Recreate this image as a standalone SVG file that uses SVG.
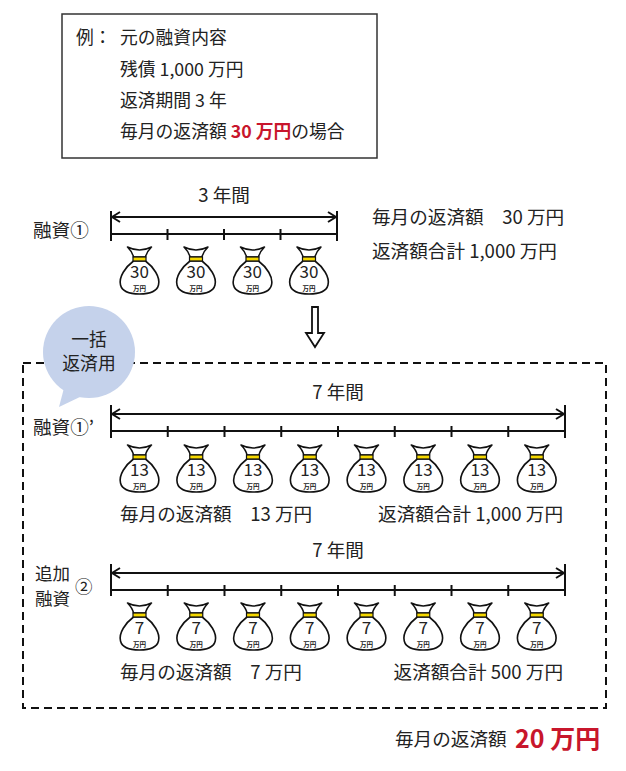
<svg xmlns="http://www.w3.org/2000/svg" xmlns:xlink="http://www.w3.org/1999/xlink" width="626" height="771" viewBox="0 0 626 771">
<style>
text{font-family:"Noto Sans CJK JP","Noto Sans",sans-serif;fill:#222;}
.t{font-size:18.6px;}
.tb{font-size:17.8px;}
.ts{font-size:17.5px;}
.red{fill:#c8162c;font-weight:bold;}
.ln{stroke:#111;stroke-width:2;fill:none;}
.bag{fill:#fff;stroke:#111;stroke-width:1.6;stroke-linejoin:round;}
.band{fill:#f5d800;stroke:#111;stroke-width:1.2;}
.num{font-size:17px;text-anchor:middle;}
.unit{font-size:6.5px;text-anchor:middle;font-weight:bold;}
.mid{text-anchor:middle;}
.end{text-anchor:end;}
</style>
<defs>
<g id="bagShape">
<path class="bag" d="M -12 0 Q 0 6 12 0 Q 7 5 6 10 L -6 10 Q -7 5 -12 0 Z"/>
<path class="bag" d="M -6 14 C -14 20 -21 30 -19 38 C -17 46 -8 47 0 47 C 8 47 17 46 19 38 C 21 30 14 20 6 14 Z"/>
<rect class="band" x="-6.5" y="10" width="13" height="4"/>
</g>
<marker id="ah" viewBox="0 0 10 12" refX="9" refY="6" markerWidth="10" markerHeight="12" markerUnits="userSpaceOnUse" orient="auto-start-reverse">
<path d="M 1 1 L 9 6 L 1 11" fill="none" stroke="#111" stroke-width="2"/>
</marker>
</defs>
<rect width="626" height="771" fill="#fff"/>

<g id="example-box">
<rect x="62" y="14" width="315" height="144" fill="#fff" stroke="#333" stroke-width="1.5"/>
<text class="tb" x="76" y="44">例：</text>
<text class="tb" x="120" y="44">元の融資内容</text>
<text class="tb" x="120" y="76">残債 1,000 万円</text>
<text class="tb" x="120" y="107">返済期間 3 年</text>
<text class="tb" x="120" y="138">毎月の返済額 <tspan class="red">30 万円</tspan>の場合</text>
</g>

<g id="connectors">
<line class="ln" x1="112" y1="217" x2="336" y2="217" marker-start="url(#ah)" marker-end="url(#ah)"/>
<path class="ln" d="M111 211 V241 M337 211 V241 M111 234 H337 M167.5 229 V240 M224 229 V240 M280.5 229 V240"/>
<line class="ln" x1="112" y1="414" x2="564" y2="414" marker-start="url(#ah)" marker-end="url(#ah)"/>
<path class="ln" d="M111 405 V438 M565 405 V438 M111 431 H565 M167.75 426 V437 M224.5 426 V437 M281.25 426 V437 M338 426 V437 M394.75 426 V437 M451.5 426 V437 M508.25 426 V437"/>
<line class="ln" x1="112" y1="573" x2="564" y2="573" marker-start="url(#ah)" marker-end="url(#ah)"/>
<path class="ln" d="M111 564 V596 M565 564 V596 M111 590 H565 M167.75 585 V596 M224.5 585 V596 M281.25 585 V596 M338 585 V596 M394.75 585 V596 M451.5 585 V596 M508.25 585 V596"/>
<path d="M312 307 H318 V333 H324 L315 347 L306 333 H312 Z" fill="#fff" stroke="#111" stroke-width="1.8" stroke-linejoin="miter"/>
</g>

<g id="labels-row1">
<text class="t" x="33" y="237">融資①</text>
<text class="t mid" x="224" y="202">3 年間</text>
<text class="t" x="372" y="224">毎月の返済額　30 万円</text>
<text class="t" x="372" y="258">返済額合計 1,000 万円</text>
</g>

<g id="bags-row1">
<g id="bag1-1" transform="translate(139.5,247)"><use xlink:href="#bagShape"/><text class="num" y="31">30</text><text class="unit" y="43.5">万円</text></g>
<g id="bag1-2" transform="translate(196,247)"><use xlink:href="#bagShape"/><text class="num" y="31">30</text><text class="unit" y="43.5">万円</text></g>
<g id="bag1-3" transform="translate(252.5,247)"><use xlink:href="#bagShape"/><text class="num" y="31">30</text><text class="unit" y="43.5">万円</text></g>
<g id="bag1-4" transform="translate(309,247)"><use xlink:href="#bagShape"/><text class="num" y="31">30</text><text class="unit" y="43.5">万円</text></g>
</g>

<g id="refinance-box">
<rect x="23" y="363" width="583" height="345" fill="none" stroke="#111" stroke-width="2" stroke-dasharray="8 5"/>
</g>

<g id="bubble">
<path d="M 64 388 L 59 407 L 82 396 Z" fill="#c5d2eb"/>
<circle cx="89" cy="352" r="46" fill="#c5d2eb"/>
<text class="tb mid" x="89" y="346">一括</text>
<text class="tb mid" x="89" y="370">返済用</text>
</g>

<g id="labels-row2">
<text class="t" x="33" y="434">融資①’</text>
<text class="t mid" x="338" y="399">7 年間</text>
<text class="t" x="120" y="521">毎月の返済額　13 万円</text>
<text class="t end" x="563" y="521">返済額合計 1,000 万円</text>
</g>

<g id="bags-row2">
<g id="bag2-1" transform="translate(139.5,445)"><use xlink:href="#bagShape"/><text class="num" y="31">13</text><text class="unit" y="43.5">万円</text></g>
<g id="bag2-2" transform="translate(196.25,445)"><use xlink:href="#bagShape"/><text class="num" y="31">13</text><text class="unit" y="43.5">万円</text></g>
<g id="bag2-3" transform="translate(253,445)"><use xlink:href="#bagShape"/><text class="num" y="31">13</text><text class="unit" y="43.5">万円</text></g>
<g id="bag2-4" transform="translate(309.75,445)"><use xlink:href="#bagShape"/><text class="num" y="31">13</text><text class="unit" y="43.5">万円</text></g>
<g id="bag2-5" transform="translate(366.5,445)"><use xlink:href="#bagShape"/><text class="num" y="31">13</text><text class="unit" y="43.5">万円</text></g>
<g id="bag2-6" transform="translate(423.25,445)"><use xlink:href="#bagShape"/><text class="num" y="31">13</text><text class="unit" y="43.5">万円</text></g>
<g id="bag2-7" transform="translate(480,445)"><use xlink:href="#bagShape"/><text class="num" y="31">13</text><text class="unit" y="43.5">万円</text></g>
<g id="bag2-8" transform="translate(536.75,445)"><use xlink:href="#bagShape"/><text class="num" y="31">13</text><text class="unit" y="43.5">万円</text></g>
</g>

<g id="labels-row3">
<text class="ts" x="35" y="580">追加</text>
<text class="ts" x="35" y="605">融資</text>
<text class="ts" x="75" y="593">②</text>
<text class="t mid" x="338" y="557">7 年間</text>
<text class="t" x="120" y="679">毎月の返済額　7 万円</text>
<text class="t end" x="563" y="679">返済額合計 500 万円</text>
</g>

<g id="bags-row3">
<g id="bag3-1" transform="translate(139.5,603)"><use xlink:href="#bagShape"/><text class="num" y="31">7</text><text class="unit" y="43.5">万円</text></g>
<g id="bag3-2" transform="translate(196.25,603)"><use xlink:href="#bagShape"/><text class="num" y="31">7</text><text class="unit" y="43.5">万円</text></g>
<g id="bag3-3" transform="translate(253,603)"><use xlink:href="#bagShape"/><text class="num" y="31">7</text><text class="unit" y="43.5">万円</text></g>
<g id="bag3-4" transform="translate(309.75,603)"><use xlink:href="#bagShape"/><text class="num" y="31">7</text><text class="unit" y="43.5">万円</text></g>
<g id="bag3-5" transform="translate(366.5,603)"><use xlink:href="#bagShape"/><text class="num" y="31">7</text><text class="unit" y="43.5">万円</text></g>
<g id="bag3-6" transform="translate(423.25,603)"><use xlink:href="#bagShape"/><text class="num" y="31">7</text><text class="unit" y="43.5">万円</text></g>
<g id="bag3-7" transform="translate(480,603)"><use xlink:href="#bagShape"/><text class="num" y="31">7</text><text class="unit" y="43.5">万円</text></g>
<g id="bag3-8" transform="translate(536.75,603)"><use xlink:href="#bagShape"/><text class="num" y="31">7</text><text class="unit" y="43.5">万円</text></g>
</g>

<g id="total">
<text class="t" x="395" y="746">毎月の返済額</text>
<text class="red" x="515" y="748" style="font-size:25px">20 万円</text>
</g>
</svg>
